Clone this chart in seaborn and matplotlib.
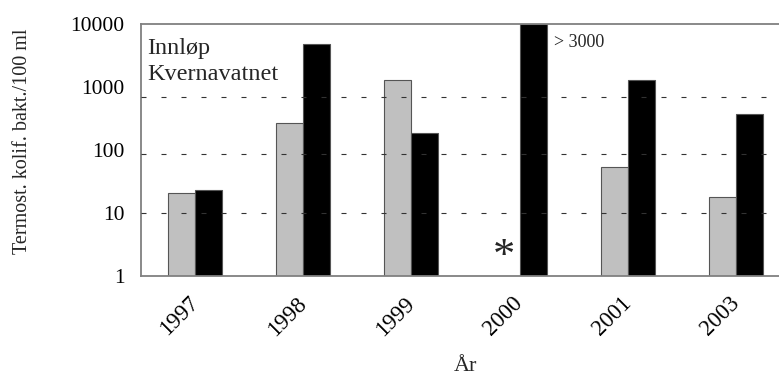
import matplotlib
matplotlib.use("Agg")
import matplotlib.pyplot as plt
import matplotlib.transforms as mtransforms
import numpy as np
import pandas as pd
import seaborn as sns

# ---- data ----
years = ["1997", "1998", "1999", "2000", "2001", "2003"]
series_grey = [21, 270, 1280, np.nan, 55, 18]      # grey bars (2000: no value, marked *)
series_black = [23, 4900, 190, 10000, 1280, 380]   # black bars (2000: > 3000, off scale)
series_names = ["Serie 1", "Serie 2"]
y_ticks = [1, 10, 100, 1000, 10000]
y_tick_labels = ["1", "10", "100", "1000", "10000"]
grid_levels = [10, 86, 700]

df = pd.DataFrame({
    "År": years * 2,
    "verdi": series_grey + series_black,
    "serie": [series_names[0]] * len(years) + [series_names[1]] * len(years),
})

sns.set_theme(style="white")
plt.rcParams["font.family"] = ["Liberation Serif", "DejaVu Serif"]

W, H = 779, 376
fig = plt.figure(figsize=(W / 100, H / 100), dpi=100)
left_px, right_px, top_px, bot_px = 141, 790, 24, 276.3
ax = fig.add_axes([left_px / W, 1 - bot_px / H, (right_px - left_px) / W, (bot_px - top_px) / H])

sns.barplot(data=df, x="År", y="verdi", hue="serie", order=years,
            hue_order=series_names, palette=["#c0c0c0", "#000000"],
            width=0.5, gap=0, edgecolor="#555555", linewidth=0.8,
            legend=False, ax=ax, zorder=2)
ax.set_yscale("log")

ax.set_ylim(1, 10000)
ax.set_xlim(-0.5, 5.5)
ax.set_yticks(y_ticks)
ax.set_yticklabels(y_tick_labels)
ax.yaxis.set_minor_locator(matplotlib.ticker.NullLocator())
ax.tick_params(axis="y", length=0, pad=12, labelsize=15.5, colors="black")
ax.tick_params(axis="x", length=0, pad=0, labelsize=16.5, colors="black")
for lab in ax.get_xticklabels():
    lab.set_rotation(45)
    lab.set_ha("right")
    lab.set_va("center")
    lab.set_rotation_mode("anchor")
    lab.set_transform(lab.get_transform() + mtransforms.ScaledTranslation(0 / 100, -24 / 100, fig.dpi_scale_trans))

for g in grid_levels:
    ax.axhline(g, color="#333333", lw=0.8, ls=(0, (4.5, 13.5)), zorder=3)

for side in ["left", "bottom", "top"]:
    ax.spines[side].set_color("#808080")
    ax.spines[side].set_linewidth(1.3)
ax.spines["right"].set_visible(False)

ax.set_xlabel("År", fontsize=16, labelpad=12)
ax.set_ylabel("Termost. kolif. bakt./100 ml", fontsize=14.5)
ax.yaxis.set_label_coords(-(left_px - 32) / (right_px - left_px), 0.536)

ax.text(0.009, 0.945, "Innløp\nKvernavatnet", transform=ax.transAxes,
        ha="left", va="top", fontsize=17.5, linespacing=1.3)
trans = mtransforms.blended_transform_factory(ax.transData, ax.transAxes)
ax.text(3.32, 0.96, "> 3000", transform=trans, ha="left", va="top", fontsize=13)
ax.text(2.855, 0.075, "*", transform=trans, ha="center", va="center", fontsize=32)

fig.savefig("out.png", dpi=100)
